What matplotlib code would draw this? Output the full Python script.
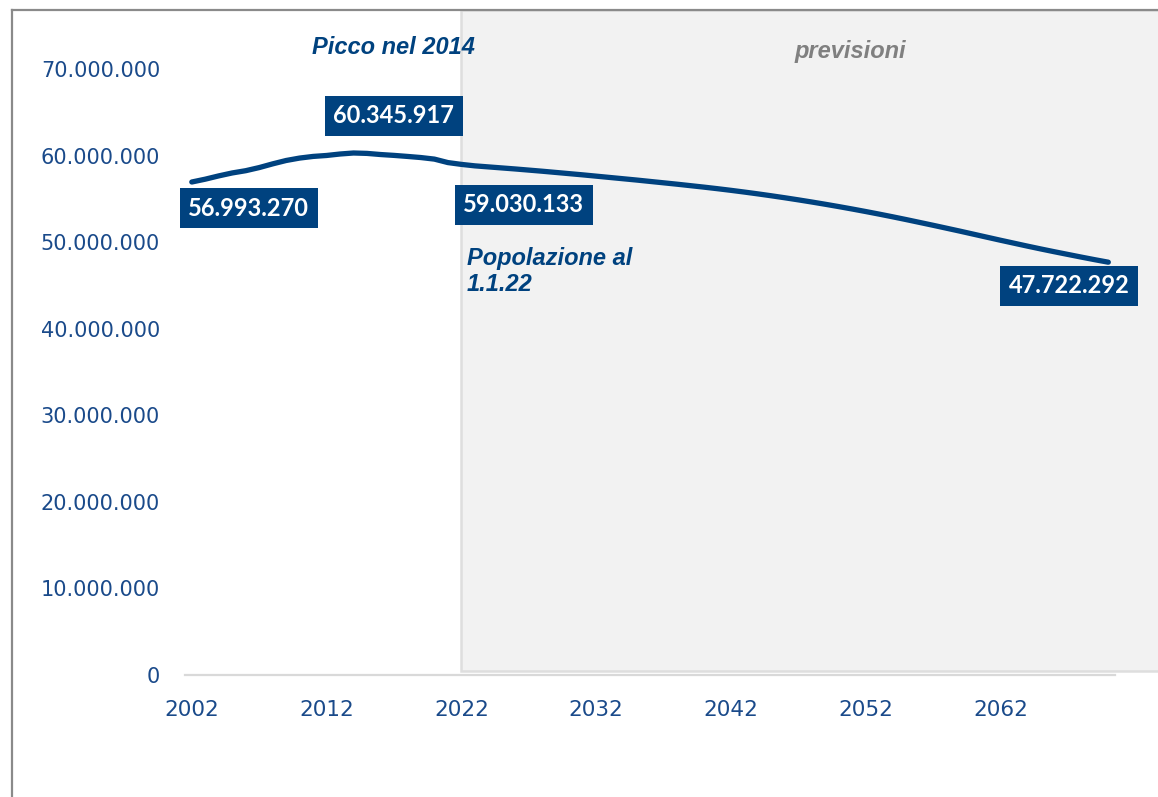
import matplotlib
matplotlib.use('Agg')
import matplotlib.pyplot as plt
import matplotlib.transforms as mtransforms
from matplotlib.patches import Rectangle
from matplotlib.lines import Line2D
from matplotlib.ticker import FuncFormatter

# dati: popolazione residente al 1 gennaio (milioni), storico + previsioni
anni = list(range(2002, 2071))
popolazione = [
    56.993270, 57.32, 57.70, 58.04, 58.30, 58.66, 59.09, 59.48, 59.76, 59.95,
    60.06, 60.23, 60.345917, 60.30, 60.17, 60.07, 59.95, 59.82, 59.64, 59.24,
    59.030133, 58.86, 58.74, 58.62, 58.50, 58.37, 58.24, 58.10, 57.96, 57.82,
    57.67, 57.52, 57.37, 57.22, 57.06, 56.90, 56.74, 56.57, 56.40, 56.22,
    56.03, 55.83, 55.62, 55.40, 55.17, 54.93, 54.68, 54.42, 54.15, 53.87,
    53.58, 53.28, 52.97, 52.65, 52.32, 51.99, 51.65, 51.31, 50.96, 50.61,
    50.26, 49.92, 49.58, 49.25, 48.93, 48.62, 48.31, 48.01, 47.722292,
]
valori = [v * 1e6 for v in popolazione]

anno_picco = 2014
anno_base = 2022
etichette = {2002: '56.993.270', 2014: '60.345.917', 2022: '59.030.133', 2070: '47.722.292'}
# spostamento delle etichette (punti)
spost = {2002: (41, -19), 2014: (29, 27), 2022: (45, -29), 2070: (-28, -17)}

blu = '#00427f'
blu_testo = '#1a4a8a'

fig = plt.figure(figsize=(11.58, 7.97), dpi=100)
ax = fig.add_axes([0.1598, 0.1531, 0.8031, 0.7597])

# area previsioni
trans = mtransforms.blended_transform_factory(ax.transData, fig.transFigure)
ax.add_patch(Rectangle((anno_base, 0.158), 60, 0.8295, transform=trans,
                       facecolor='#f2f2f2', edgecolor='#dedede', lw=1.8,
                       clip_on=False, zorder=0))

ax.plot(anni, valori, color=blu, lw=3.8, solid_capstyle='round', zorder=3)

ax.set_xlim(2001.5, 2070.5)
ax.set_ylim(0, 70e6)
ax.set_xticks(range(2002, 2063, 10))
ax.set_yticks(range(0, 70000001, 10000000))
ax.yaxis.set_major_formatter(FuncFormatter(lambda v, p: f'{int(v):,}'.replace(',', '.')))

for s in ['top', 'right', 'left']:
    ax.spines[s].set_visible(False)
ax.spines['bottom'].set_color('#d9d9d9')
ax.spines['bottom'].set_linewidth(1.6)
ax.patch.set_alpha(0)
ax.tick_params(axis='both', length=0, colors=blu_testo)
ax.tick_params(axis='y', pad=18, labelsize=15)
ax.tick_params(axis='x', pad=18, labelsize=15.5)

for anno, testo in etichette.items():
    v = valori[anni.index(anno)]
    ax.annotate(testo, xy=(anno, v), xytext=spost[anno], textcoords='offset points',
                ha='center', va='center', color='white', fontsize=17,
                fontweight='bold', family='Lato', zorder=5,
                bbox=dict(boxstyle='square,pad=0.36', fc=blu, ec='none'))

v_picco = valori[anni.index(anno_picco)]
ax.annotate('Picco nel 2014', xy=(anno_picco, v_picco), xytext=(29, 76),
            textcoords='offset points', ha='center', va='center', color=blu,
            fontsize=17, fontweight='bold', style='italic', family='Liberation Sans')

v_base = valori[anni.index(anno_base)]
ax.annotate('Popolazione al\n1.1.22', xy=(anno_base, v_base), xytext=(4, -77),
            textcoords='offset points', ha='left', va='center', color=blu,
            fontsize=17, fontweight='bold', style='italic', family='Liberation Sans',
            linespacing=1.2)

ax.text(0.715, 1.03, 'previsioni', transform=ax.transAxes, ha='center', va='center',
        color='#808080', fontsize=17, fontweight='bold', style='italic',
        family='Liberation Sans')

# bordo del grafico
fig.add_artist(Line2D([12 / 1158, 1], [787 / 797, 787 / 797], color='#8a8a8a', lw=1.6))
fig.add_artist(Line2D([12 / 1158, 12 / 1158], [0, 787 / 797], color='#8a8a8a', lw=1.6))

fig.savefig('out.png', dpi=100)
